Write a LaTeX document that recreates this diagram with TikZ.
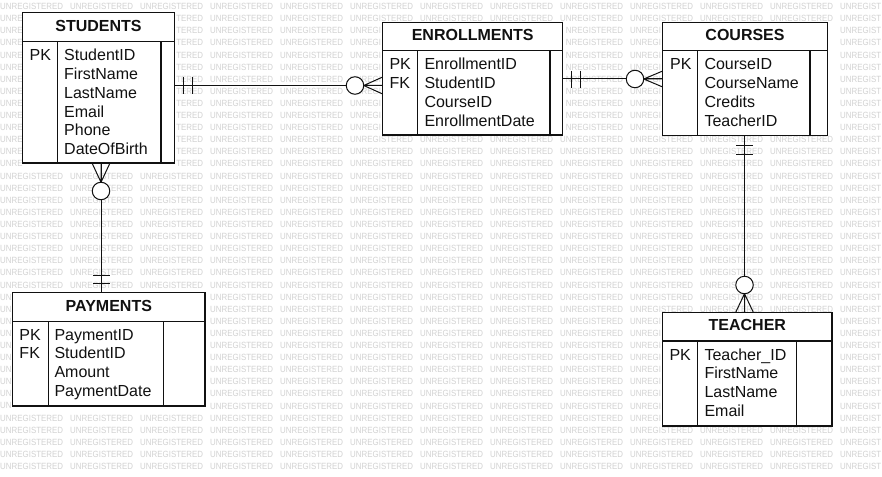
\documentclass[tikz,border=0pt]{standalone}
\usepackage{fontspec}
\setmainfont{Liberation Sans}
\usetikzlibrary{calc}
\definecolor{wmc}{HTML}{D2D2D2}
\definecolor{inkc}{HTML}{111111}
\tikzset{
  tabbox/.style={draw=inkc, line width=1.3pt, fill=white, inner sep=0pt, outer sep=0pt, anchor=north west},
  tabline/.style={draw=inkc, line width=1.3pt},
  ttl/.style={font=\fontsize{16}{18}\selectfont\bfseries, text=inkc, inner sep=0pt, anchor=base},
  att/.style={font=\fontsize{16}{18}\selectfont, text=inkc, inner sep=0pt, anchor=base west},
  conn/.style={draw=inkc, line width=1pt},
  circ/.style={circle, draw=inkc, fill=white, line width=1pt, minimum size=17.5pt, inner sep=0pt, outer sep=0pt},
  wmk/.style={font=\fontsize{9}{9}\selectfont, text=wmc, inner sep=0pt, anchor=west}
}
\newcommand\ertab[9]{%
  \node[tabbox, minimum width={#4-#2}, minimum height={#5-#3}] (#1) at (#2,#3) {};
  \draw[tabline] (#2,#6) -- (#4,#6);
  \draw[tabline] (#7,#6) -- (#7,#5);
  \draw[tabline] (#8,#6) -- (#8,#5);
  \node[ttl] (#1-t) at ({(#2+#4)/2},{#6-10.2}) {#9};
}
\newcommand\ercol[4]{%
  \foreach \t [count=\i from 0] in {#4} {\node[att] (#1-\i) at (#2,{#3+\i*18.67}) {\t};}
}
% watermark helpers
\newcommand\hb[4]{((\wx<#3) && (\wx+63>#1) && (\wy-3.3<#4) && (\wy+3.3>#2))}
\newcommand\testtab[4]{%
  \pgfmathtruncatemacro\hh{\hb{#1}{#2}{#3}{#4}}%
  \ifnum\hh=1 \def\tx{#1}\def\ty{#3}\fi}
\newcommand\wpre[1]{\ifcase#1\or U\or UN\or UNR\or UNRE\or UNREG\or UNREGI\or UNREGIS\or UNREGIST\or UNREGISTE\or UNREGISTER\or UNREGISTERE\or UNREGISTERED\fi}
\newcommand\wsuf[1]{\ifcase#1 UNREGISTERED\or NREGISTERED\or REGISTERED\or EGISTERED\or GISTERED\or ISTERED\or STERED\or TERED\or ERED\or RED\or ED\or D\fi}
\newcommand\wpos[1]{\ifcase#1 0\or 5.72\or 11.44\or 17.16\or 22.44\or 28.6\or 30.8\or 36.08\or 40.92\or 46.2\or 51.92\or 57.2\or 62.9\fi}
\begin{document}
\begin{tikzpicture}[x=1pt,y=-1pt]
\useasboundingbox (0,0) rectangle (882,476);
\fill[white] (0,0) rectangle (882,476);
% watermark
\foreach \r in {0,...,38} {
  \foreach \c in {0,...,12} {
    \pgfmathsetmacro\wx{\c*70}
    \pgfmathsetmacro\wy{6.6+\r*12.1}
    \def\tx{882}\def\ty{9999}
    \testtab{22.7}{12.3}{174.3}{163}
    \testtab{382.7}{22.3}{562.7}{135}
    \testtab{662.7}{22.3}{827.3}{135.7}
    \testtab{12.7}{292.7}{205}{406}
    \testtab{662.7}{312.7}{832}{426}
    \pgfmathsetmacro\LL{\tx-\wx}
    \pgfmathsetmacro\RR{\ty-\wx}
    \pgfmathtruncatemacro\np{(5.72<\LL)+(11.44<\LL)+(17.16<\LL)+(22.44<\LL)+(28.6<\LL)+(30.8<\LL)+(36.08<\LL)+(40.92<\LL)+(46.2<\LL)+(51.92<\LL)+(57.2<\LL)+(62.9<\LL)}
    \pgfmathtruncatemacro\ks{12-((0>\RR)+(5.72>\RR)+(11.44>\RR)+(17.16>\RR)+(22.44>\RR)+(28.6>\RR)+(30.8>\RR)+(36.08>\RR)+(40.92>\RR)+(46.2>\RR)+(51.92>\RR)+(57.2>\RR))}
    \ifnum\np>0
      \node[wmk] (wp-\r-\c) at (\wx,\wy) {\scalebox{0.88}[1]{\wpre{\np}}};
    \fi
    \ifnum\ks<12
      \edef\sx{\wpos{\ks}}
      \node[wmk] (ws-\r-\c) at ({\wx+\sx},\wy) {\scalebox{0.88}[1]{\wsuf{\ks}}};
    \fi
  }
}
% connectors
% STUDENTS -- ENROLLMENTS
\draw[conn] (174.3,85.5) coordinate (c1s) -- (382.7,85.5) coordinate (c1e);
\draw[conn] (183.5,77) -- (183.5,94) (192.5,77) -- (192.5,94);
\node[circ] (o1) at (355,85.5) {};
\draw[conn] (o1.east) -- (382.7,77) (o1.east) -- (c1e) (o1.east) -- (382.7,94);
% ENROLLMENTS -- COURSES
\draw[conn] (562.7,79) coordinate (c2s) -- (662.7,79) coordinate (c2e);
\draw[conn] (571.7,71) -- (571.7,88) (580.3,71) -- (580.3,88);
\node[circ] (o2) at (635,79) {};
\draw[conn] (o2.east) -- (662.7,71) (o2.east) -- (c2e) (o2.east) -- (662.7,87);
% STUDENTS -- PAYMENTS
\draw[conn] (101,163) coordinate (c3s) -- (101,292.7) coordinate (c3e);
\draw[conn] (93,275) -- (109.5,275) (93,283.3) -- (109.5,283.3);
\node[circ] (o3) at (101,191) {};
\draw[conn] (o3.north) -- (92,163) (o3.north) -- (c3s) (o3.north) -- (110,163);
% COURSES -- TEACHER
\draw[conn] (744.5,135.7) coordinate (c4s) -- (744.5,312.7) coordinate (c4e);
\draw[conn] (736,145) -- (753,145) (736,154) -- (753,154);
\node[circ] (o4) at (744.5,285) {};
\draw[conn] (o4.south) -- (735.5,312.7) (o4.south) -- (c4e) (o4.south) -- (753.5,312.7);
% tables
\ertab{stu}{22.7}{12.3}{174.3}{163}{41.7}{57.7}{161}{STUDENTS}
\ercol{stu-k}{29.5}{61}{PK}
\ercol{stu-a}{64}{61}{StudentID,FirstName,LastName,Email,Phone,DateOfBirth}
\ertab{enr}{382.7}{22.3}{562.7}{135}{50.7}{417.3}{550}{ENROLLMENTS}
\ercol{enr-k}{389.3}{70}{PK,FK}
\ercol{enr-a}{424.3}{70}{EnrollmentID,StudentID,CourseID,EnrollmentDate}
\ertab{cou}{662.7}{22.3}{827.3}{135.7}{50.7}{697.3}{810}{COURSES}
\ercol{cou-k}{670}{70}{PK}
\ercol{cou-a}{704.3}{70}{CourseID,CourseName,Credits,TeacherID}
\ertab{pay}{12.7}{292.7}{205}{406}{321.7}{48.3}{163.3}{PAYMENTS}
\ercol{pay-k}{19.3}{340}{PK,FK}
\ercol{pay-a}{54.3}{340}{PaymentID,StudentID,Amount,PaymentDate}
\ertab{tea}{662.7}{312.7}{832}{426}{341}{697.7}{796.7}{TEACHER}
\ercol{tea-k}{669.3}{360}{PK}
\ercol{tea-a}{704.3}{360}{Teacher\_ID,FirstName,LastName,Email}
\end{tikzpicture}
\end{document}
